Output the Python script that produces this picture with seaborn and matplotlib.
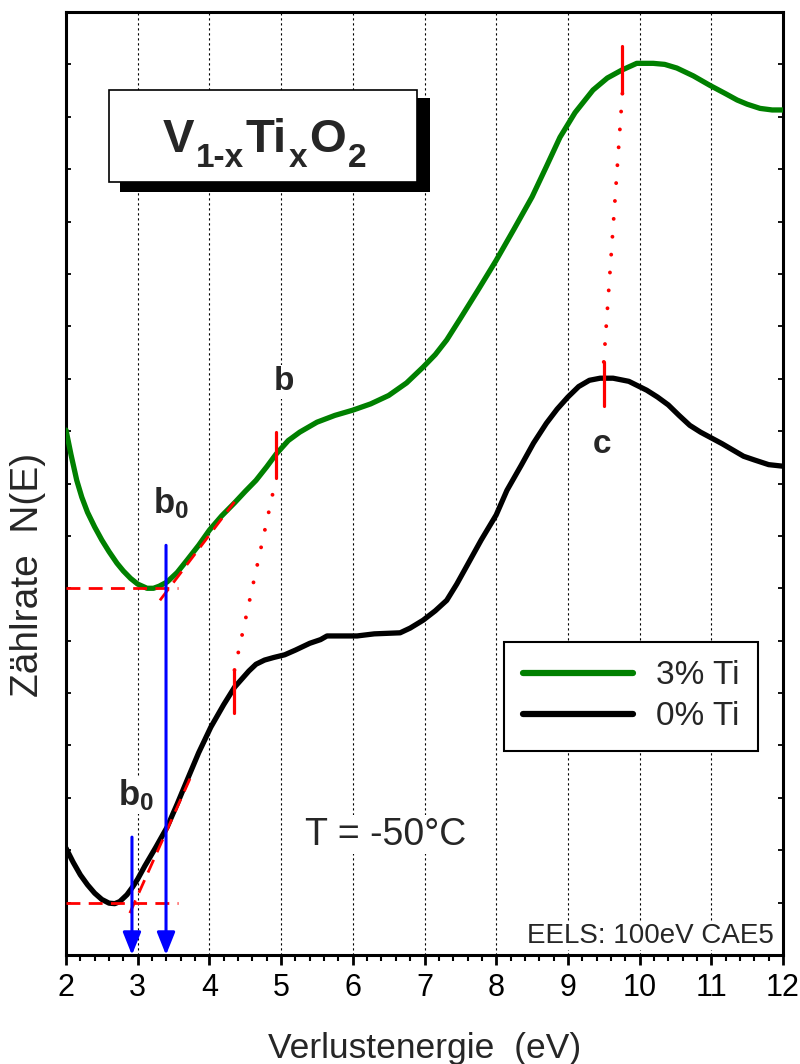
import numpy as np
import pandas as pd
import matplotlib
matplotlib.use("Agg")
import matplotlib.pyplot as plt
import seaborn as sns
from matplotlib import font_manager
from matplotlib.patches import Rectangle
from matplotlib.ticker import MultipleLocator

# ---------------- data ----------------
energy_3ti = [2.0, 2.07, 2.15, 2.22, 2.3, 2.4, 2.5, 2.6, 2.71, 2.8, 2.9, 3.0, 3.13, 3.22,
              3.3, 3.41, 3.55, 3.69, 3.85, 4.0, 4.17, 4.35, 4.5, 4.65, 4.8, 4.93, 5.1,
              5.26, 5.5, 5.75, 6.0, 6.25, 6.5, 6.75, 6.98, 7.15, 7.31, 7.5, 7.75, 8.0,
              8.25, 8.5, 8.7, 8.89, 9.1, 9.35, 9.55, 9.75, 9.96, 10.19, 10.35, 10.52,
              10.75, 10.98, 11.2, 11.36, 11.5, 11.68, 11.85, 12.0]
counts_3ti = [10.02, 9.55, 9.06, 8.74, 8.45, 8.17, 7.92, 7.70, 7.48, 7.33, 7.19, 7.08, 7.00, 7.00,
              7.04, 7.12, 7.30, 7.54, 7.82, 8.11, 8.38, 8.63, 8.85, 9.06, 9.32, 9.56, 9.82,
              9.98, 10.17, 10.30, 10.40, 10.52, 10.68, 10.92, 11.22, 11.46, 11.74, 12.15, 12.70, 13.26,
              13.86, 14.47, 15.05, 15.61, 16.08, 16.51, 16.74, 16.89, 17.02, 17.02, 17.00, 16.93,
              16.78, 16.60, 16.44, 16.32, 16.24, 16.16, 16.13, 16.13]

energy_0ti = [2.0, 2.1, 2.2, 2.3, 2.4, 2.5, 2.6, 2.68, 2.75, 2.85, 2.93, 3.0, 3.1, 3.25,
              3.41, 3.55, 3.69, 3.85, 4.02, 4.2, 4.35, 4.55, 4.65, 4.77, 4.9, 5.05, 5.2,
              5.4, 5.55, 5.64, 5.8, 6.06, 6.3, 6.66, 6.8, 6.98, 7.15, 7.31, 7.45, 7.6,
              7.79, 8.0, 8.15, 8.35, 8.52, 8.7, 8.85, 9.0, 9.15, 9.3, 9.45, 9.63, 9.85,
              10.1, 10.25, 10.4, 10.55, 10.7, 10.85, 11.0, 11.15, 11.3, 11.45, 11.6, 11.8, 12.0]
counts_0ti = [2.04, 1.77, 1.53, 1.34, 1.18, 1.06, 0.99, 0.98, 1.02, 1.15, 1.30, 1.45, 1.70, 2.05,
              2.44, 2.88, 3.34, 3.86, 4.35, 4.78, 5.11, 5.42, 5.55, 5.63, 5.68, 5.73, 5.82,
              5.95, 6.02, 6.09, 6.09, 6.09, 6.13, 6.15, 6.24, 6.39, 6.57, 6.77, 7.08, 7.45,
              7.92, 8.40, 8.87, 9.35, 9.77, 10.15, 10.42, 10.65, 10.85, 10.97, 11.01, 11.01, 10.95,
              10.78, 10.65, 10.50, 10.30, 10.11, 9.98, 9.87, 9.76, 9.64, 9.52, 9.45, 9.36, 9.33]

series_labels = ["3% Ti", "0% Ti"]
series_colors = ["#008000", "#000000"]

# peak markers b and c  (index 0: 0% Ti, index 1: 3% Ti)
peak_b_x = [4.35, 4.93]
peak_b_lo = [4.62, 9.10]
peak_b_hi = [5.44, 9.98]
peak_c_x = [9.50, 9.76]
peak_c_lo = [10.48, 16.45]
peak_c_hi = [11.32, 17.35]

# onset construction (b0): baselines and tangents
base_y = [0.99, 7.00]          # 0% Ti, 3% Ti
base_x_end = [3.56, 3.56]
tangent_x = [[2.89, 3.75], [3.31, 4.35]]
tangent_y = [[0.80, 3.43], [6.77, 8.65]]
onset_x = [2.92, 3.395]
onset_top = [2.25, 7.82]

x_ticks = [2, 3, 4, 5, 6, 7, 8, 9, 10, 11, 12]

# ---------------- style ----------------
sns.set_theme(style="white")
plt.rcParams["font.family"] = ["Liberation Sans", "DejaVu Sans"]
plt.rcParams["mathtext.fontset"] = "custom"
plt.rcParams["mathtext.rm"] = "Liberation Sans"
plt.rcParams["mathtext.bf"] = "Liberation Sans:bold"


def has_font(name):
    try:
        font_manager.findfont(font_manager.FontProperties(family=name), fallback_to_default=False)
        return True
    except Exception:
        return False


title_family = "Liberation Sans Narrow" if has_font("Liberation Sans Narrow") else "Liberation Sans"

fig = plt.figure(figsize=(8, 10.64), dpi=100)
ax = fig.add_axes([66 / 800, 1 - 955 / 1064, 717 / 800, 943 / 1064])

df3 = pd.DataFrame({"E": energy_3ti, "N": counts_3ti})
df0 = pd.DataFrame({"E": energy_0ti, "N": counts_0ti})
sns.lineplot(data=df3, x="E", y="N", ax=ax, color=series_colors[0], lw=3.8,
             label=series_labels[0], sort=False, zorder=4)
sns.lineplot(data=df0, x="E", y="N", ax=ax, color=series_colors[1], lw=3.8,
             label=series_labels[1], sort=False, zorder=4)
for ln in ax.get_lines():
    ln.set_solid_joinstyle("round")

ax.set_xlim(2, 12)
ax.set_ylim(0, 18)
ax.set_xticks(x_ticks)
ax.set_xticklabels([str(t) for t in x_ticks])
ax.xaxis.set_minor_locator(MultipleLocator(0.2))
ax.set_yticks(range(0, 19))
ax.set_yticklabels([])

ax.grid(axis="x", which="major", color="black", lw=0.8, ls=(0, (2, 2.5)), zorder=0)
ax.grid(axis="y", visible=False)
ax.set_axisbelow(True)

for s in ax.spines.values():
    s.set_linewidth(2.2)
    s.set_color("black")
    s.set_visible(True)

ax.tick_params(axis="x", which="major", direction="out", length=7, width=2,
               labelsize=22, pad=6, bottom=True, top=False, colors="black")
ax.tick_params(axis="x", which="minor", direction="out", length=4.5, width=1.5,
               bottom=True, top=False, colors="black")
ax.tick_params(axis="y", which="major", direction="in", length=3.5, width=1.3,
               left=True, right=True, colors="black")

ax.set_xlabel("Verlustenergie  (eV)", fontsize=25.5, labelpad=21)
ax.set_ylabel("Zählrate  N(E)", fontsize=28)
ax.yaxis.set_label_coords(-0.028, 0.403)

# peak markers and connecting dotted lines
for xs, lo, hi in ((peak_b_x, peak_b_lo, peak_b_hi), (peak_c_x, peak_c_lo, peak_c_hi)):
    for i in range(2):
        ax.plot([xs[i], xs[i]], [lo[i], hi[i]], color="#ff0000", lw=2.3,
                solid_capstyle="round", zorder=6)
    ax.plot([xs[0], xs[1]], [hi[0], lo[1]], color="#ff0000", lw=2.8,
            ls=(0, (0.01, 4.6)), dash_capstyle="round", zorder=6)

# onset construction
for i in range(2):
    ax.plot([2, base_x_end[i]], [base_y[i], base_y[i]], color="#ff0000", lw=2.0,
            ls=(0, (5, 3)), zorder=5)
    ax.plot(tangent_x[i], tangent_y[i], color="#ff0000", lw=2.0,
            ls=(0, (5, 3)), zorder=5)
    ax.annotate("", xy=(onset_x[i], 0), xytext=(onset_x[i], onset_top[i]),
                arrowprops=dict(arrowstyle="-|>,head_length=0.55,head_width=0.22",
                                color="#0000ff", lw=2.2, mutation_scale=25,
                                shrinkA=0, shrinkB=0),
                zorder=7)

white_box = dict(facecolor="white", edgecolor="none", pad=1)
ax.text(3.21, 8.44, r"$\mathbf{b_0}$", fontsize=25, ha="left", va="baseline",
        bbox=white_box, zorder=3)
ax.text(2.73, 2.86, r"$\mathbf{b_0}$", fontsize=25, ha="left", va="baseline",
        bbox=white_box, zorder=3)
ax.text(5.04, 10.78, "b", fontsize=24, fontweight="bold", ha="center", va="baseline",
        bbox=white_box, zorder=3)
ax.text(9.48, 9.58, "c", fontsize=24, fontweight="bold", ha="center", va="baseline",
        bbox=white_box, zorder=3)
ax.text(5.33, 2.10, "T = -50°C", fontsize=27, ha="left", va="baseline",
        bbox=white_box, zorder=3)
ax.text(11.87, 0.23, "EELS: 100eV CAE5", fontsize=20, ha="right", va="baseline",
        bbox=white_box, zorder=3)

# title box with shadow
ax.add_patch(Rectangle((2.75, 14.56), 4.33, 1.79, facecolor="black", edgecolor="none", zorder=8))
ax.add_patch(Rectangle((2.60, 14.75), 4.30, 1.76, facecolor="white", edgecolor="black",
                       lw=1.2, zorder=9))
main_base, sub_base = 15.32, 15.04
title_parts = [("V", False), ("1-x", True), ("Ti", False), ("x", True), ("O", False), ("2", True)]
prev = ax.text(3.35, main_base, title_parts[0][0], fontsize=34, fontweight="bold",
               family=title_family, ha="left", va="baseline", zorder=10)
for txt, is_sub in title_parts[1:]:
    prev = ax.annotate(txt, xy=(1, sub_base if is_sub else main_base),
                       xycoords=(prev, "data"), xytext=(1.2, 0), textcoords="offset points",
                       fontsize=24 if is_sub else 34, fontweight="bold", family=title_family,
                       ha="left", va="baseline", zorder=10)

leg = ax.legend(loc="upper right", bbox_to_anchor=(0.965, 0.332), fontsize=24,
                frameon=True, fancybox=False, edgecolor="black", framealpha=1,
                handlelength=3.3, handletextpad=0.7, labelspacing=0.3,
                borderpad=0.55, borderaxespad=0)
leg.get_frame().set_linewidth(1.5)
for h in leg.get_lines():
    h.set_linewidth(4.5)
    h.set_solid_capstyle("round")

fig.savefig("out.png", dpi=100, facecolor="white")
